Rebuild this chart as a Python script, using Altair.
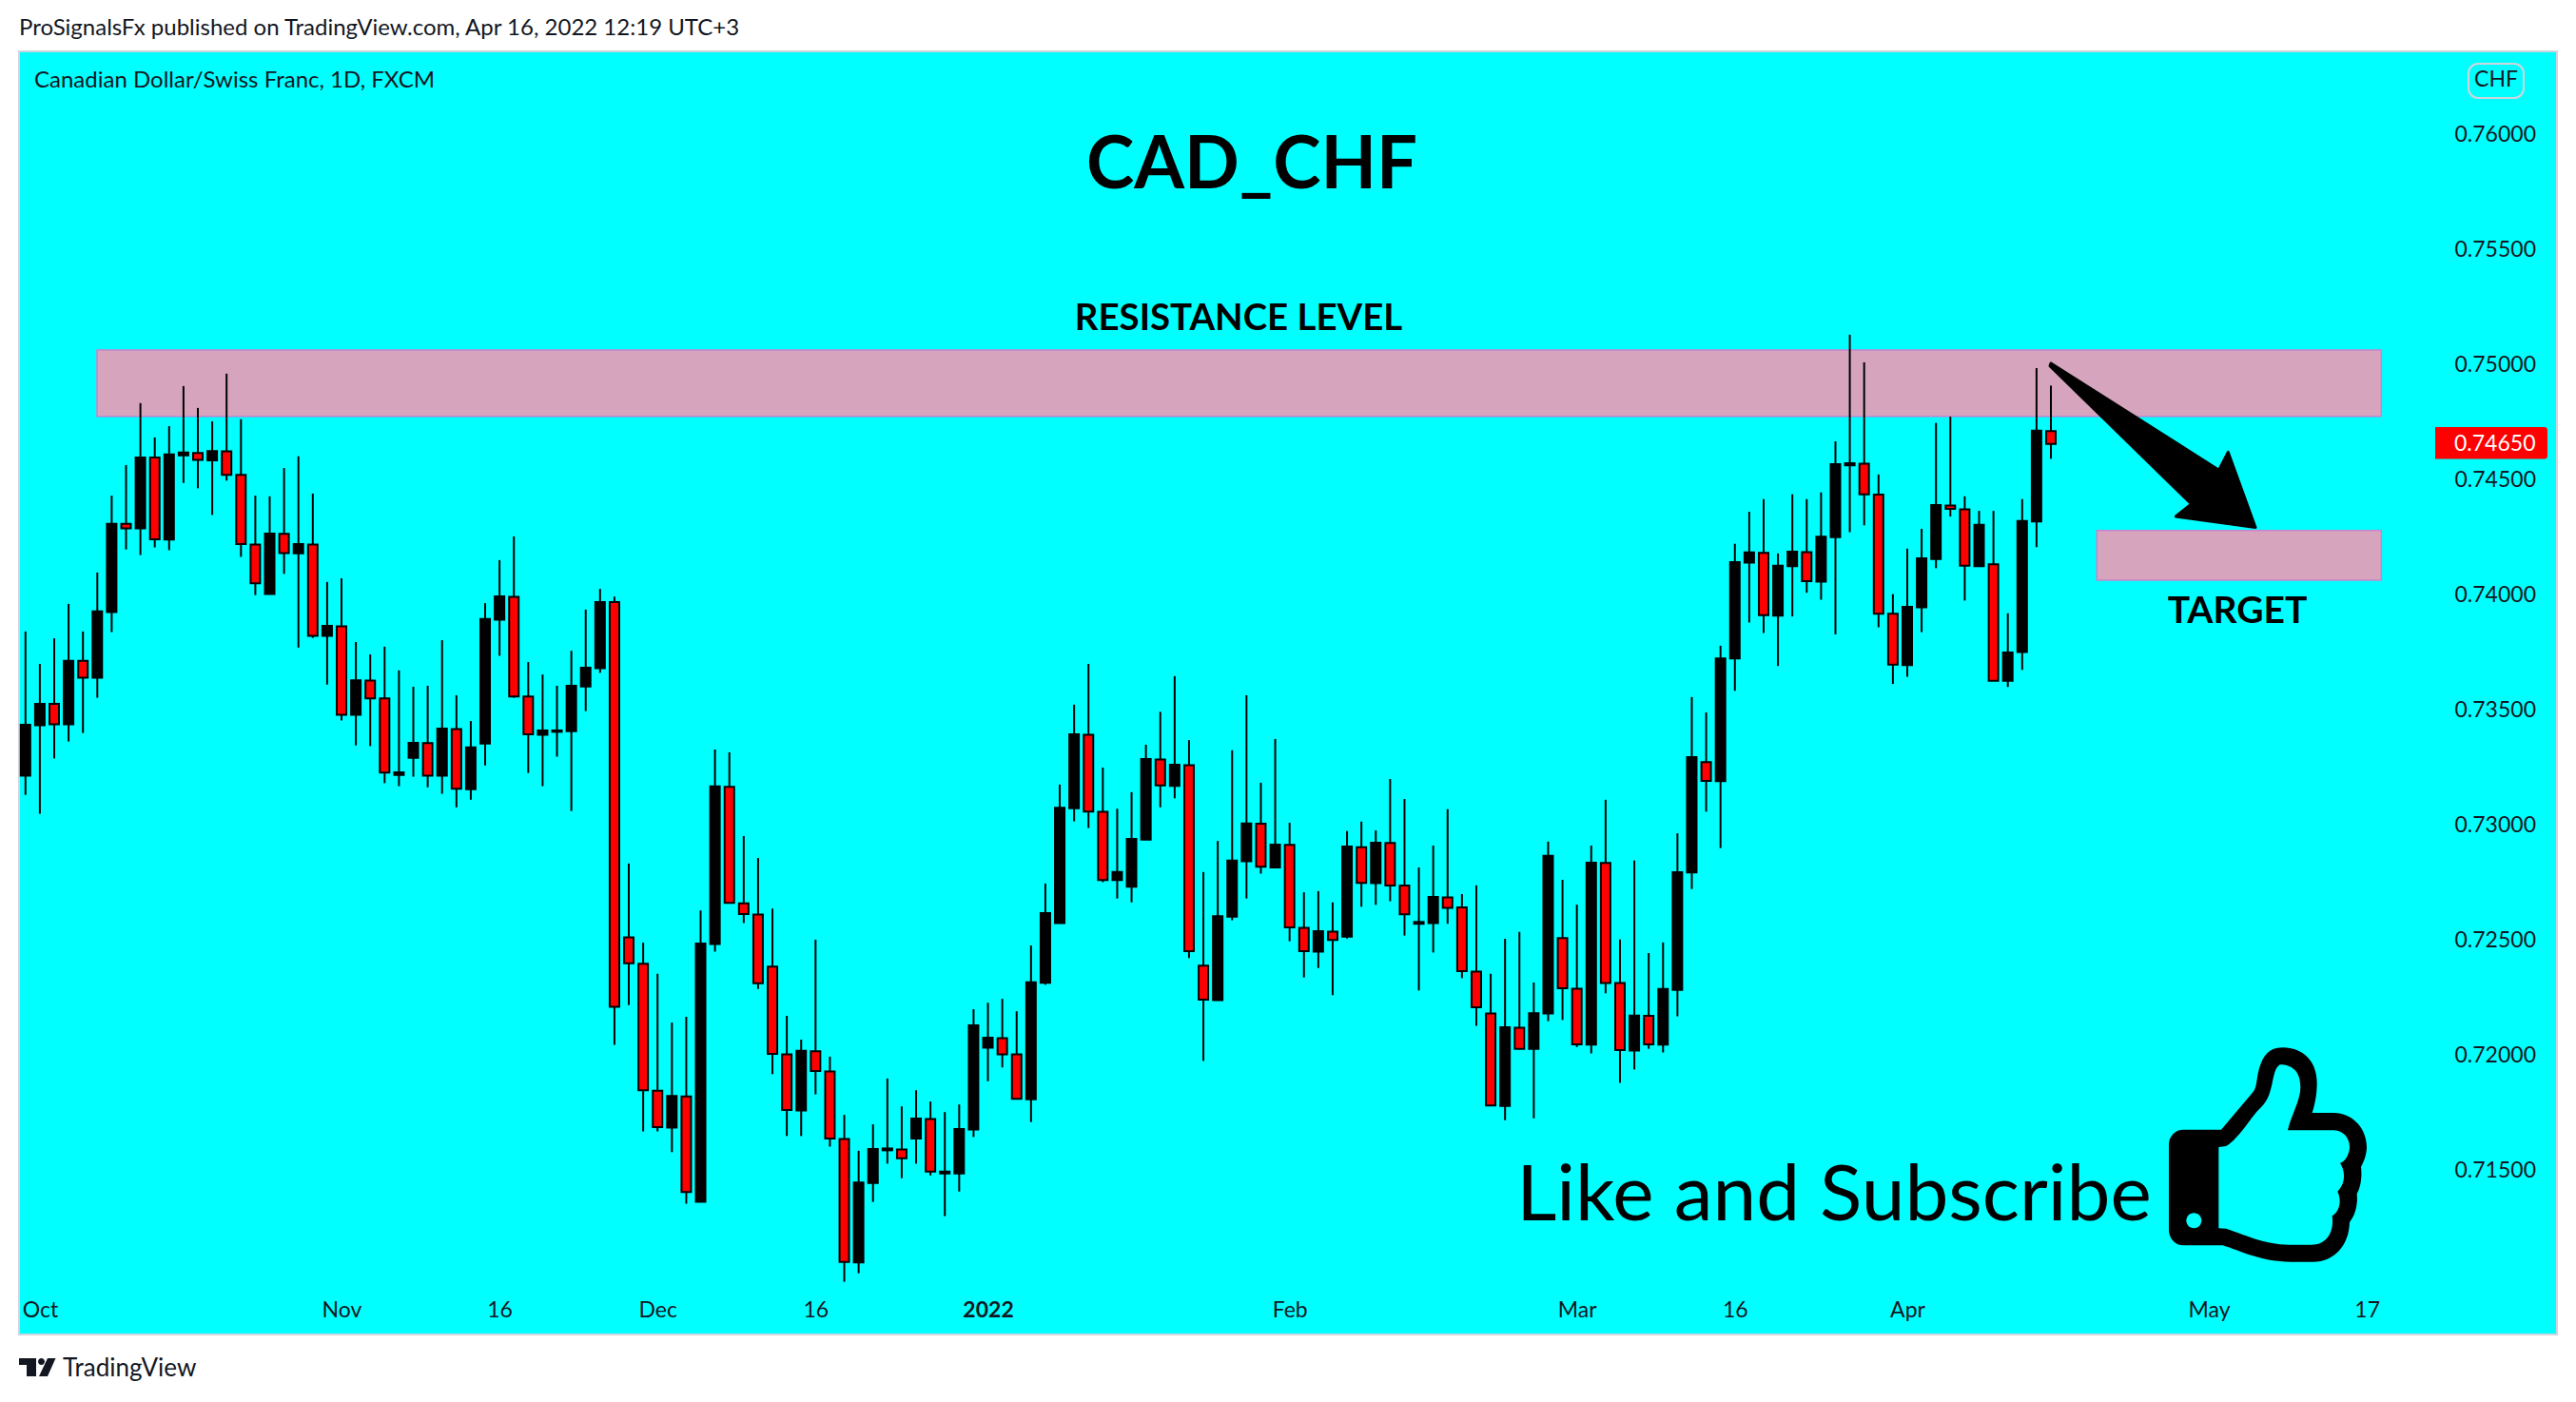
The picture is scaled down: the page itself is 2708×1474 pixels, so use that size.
import altair as alt
import pandas as pd

# prices in units of 0.00001
high = [73835,73694,73805,73955,73835,74091,74425,74558,74827,74678,
74727,74901,74806,74748,74955,74757,74425,74422,74545,74596,
74434,74050,74066,73789,73735,73769,73666,73595,73599,73797,
73558,73446,73958,74145,74248,73702,73648,73599,73751,73930,
74020,73986,72827,72483,72348,72136,72161,72623,73322,73310,
72946,72851,72631,72165,72062,72496,71988,71735,71579,71694,
71893,71772,71842,71793,71747,71780,72194,72222,72239,72185,
72471,72740,73170,73517,73694,73244,73065,73137,73343,73486,
73641,73363,72790,72925,73319,73558,73178,73368,73004,72702,
72707,72658,72968,73009,72971,73194,73107,72810,72905,73063,
72694,72732,72348,72500,72530,72310,72922,72756,72648,72905,
73104,72497,72840,72438,72484,72958,73550,73483,73773,74216,
74355,74410,74174,74431,74410,74439,74661,75124,75004,74517,
73997,74195,74281,74741,74768,74422,74359,74359,73914,74410,
74979,74903]
low = [73125,73043,73283,73357,73394,73547,73832,74191,74167,74200,
74188,74480,74457,74341,74490,74159,73993,73998,74085,73765,
73807,73604,73448,73340,73337,73176,73163,73204,73158,73130,
73071,73104,73253,73729,73547,73220,73163,73291,73055,73489,
73655,72039,72212,71663,71663,71573,71349,71357,72444,72656,
72568,72282,71912,71643,71643,71824,71597,71010,71047,71357,
71523,71460,71523,71472,71295,71402,71639,71881,71941,71805,
71704,72300,72568,73010,72981,72746,72675,72658,72931,73071,
73110,72416,71969,72233,72580,72675,72783,72807,72489,72332,
72373,72255,72501,72639,72647,72663,72514,72275,72440,72565,
72329,72122,71776,71712,72019,71720,72142,72147,72030,72002,
72263,71874,71932,72022,72006,72163,72716,73052,72894,73577,
73874,73828,73685,73900,74003,73973,73822,74266,74296,73853,
73607,73638,73832,74110,74334,73969,74115,73621,73594,73668,
74201,74585]
body_top = [73430,73520,73520,73707,73707,73922,74302,74302,74591,74591,
74604,74612,74610,74619,74618,74515,74213,74260,74259,74215,
74213,73859,73857,73623,73622,73544,73223,73351,73350,73413,
73411,73331,73889,73987,73985,73552,73405,73405,73599,73677,
73963,73963,72506,72391,71840,71817,71815,72479,73162,73160,
72654,72605,72379,71998,72013,72011,71924,71630,71441,71587,
71589,71585,71719,71717,71489,71674,72124,72070,72068,71998,
72311,72611,73069,73388,73386,73051,72790,72934,73281,73279,
73256,73254,72383,72598,72840,73001,73000,72909,72908,72547,
72533,72531,72901,72898,72917,72916,72731,72573,72682,72680,
72636,72357,72176,72116,72114,72177,72860,72503,72283,72830,
72829,72308,72166,72165,72282,72789,73289,73267,73718,74136,
74178,74176,74121,74182,74180,74247,74562,74566,74564,74429,
73912,73942,74153,74384,74382,74365,74298,74127,73744,74315,
74707,74705]
body_bottom = [73209,73427,73432,73432,73634,73634,73919,74283,74283,74235,
74234,74600,74580,74578,74515,74215,74044,73998,74175,74174,
73816,73816,73473,73473,73544,73222,73212,73286,73209,73209,
73152,73150,73348,73886,73552,73388,73386,73399,73402,73596,
73675,72204,72393,71842,71682,71680,71400,71357,72477,72656,
72607,72307,72000,71756,71754,71926,71632,71096,71094,71439,
71581,71546,71632,71489,71480,71480,71671,72027,71998,71805,
71803,72309,72568,73067,73053,72755,72755,72726,72931,73166,
73164,72446,72235,72233,72596,72837,72813,72810,72549,72446,
72444,72495,72509,72743,72742,72731,72606,72565,72568,72634,
72359,72202,71776,71774,72022,72022,72176,72285,72041,72040,
72308,72016,72014,72041,72040,72278,72788,73186,73185,73718,
74134,73906,73904,74119,74053,74051,74245,74557,74431,73912,
73691,73689,73940,74150,74368,74121,74119,73621,73621,73746,
74313,74650]
direction = ("UUDUDUUDUD" "UUDUDDDUDU" "DUDUDDUUDU" "DUUUDDUUUU" "UDDDDUDUUD"
             "DDDDUDDDUU" "UDUDUUUUDD" "UUUUDDUUUD" "UDDUUUDUDD" "UDUDUDDUUD"
             "DDDUDUUDDU" "DDUDUUUDUU" "UDUUDUUUDD" "DUUUDDUDUU" "UD")

x_tick_pos = [1, 22, 33, 44, 55, 67, 88, 108, 119, 131, 152, 163]
x_tick_text = ["Oct", "Nov", "16", "Dec", "16", "2022", "Feb", "Mar", "16", "Apr", "May", "17"]
y_ticks = [0.715, 0.72, 0.725, 0.73, 0.735, 0.74, 0.745, 0.75, 0.755, 0.76]

zone_x = [4.98, 144.2]
zone_x2 = [164.0, 164.0]
zone_hi = [0.75058, 0.74274]
zone_lo = [0.74769, 0.74058]

BG = "#00ffff"
INK = "#131722"
FONT = "Lato"
PLOT_L, PLOT_T = 20, 54
W, H = 2668, 1349

n = len(high)
df = pd.DataFrame({
    "idx": list(range(n)),
    "high": [v / 1e5 for v in high],
    "low": [v / 1e5 for v in low],
    "top": [v / 1e5 for v in body_top],
    "bottom": [v / 1e5 for v in body_bottom],
    "dir": list(direction),
})

xscale = alt.Scale(domain=[-0.45, 176.23], nice=False, zero=False, padding=0)
yscale = alt.Scale(domain=[0.70781, 0.76355], nice=False, zero=False, padding=0)

label_map = "{" + ",".join(f"'{p}':'{t}'" for p, t in zip(x_tick_pos, x_tick_text)) + "}"
x_axis = alt.Axis(values=x_tick_pos, labelExpr=label_map + "[''+datum.value]", title=None, grid=False,
                  domain=False, ticks=False, orient="bottom", offset=-26, labelPadding=0,
                  labelBaseline="middle", labelAlign="center", labelFont=FONT, labelFontSize=23, labelColor=INK,
                  labelOverlap=False, labelFlush=False,
                  labelFontWeight=alt.ExprRef("datum.value==67?'bold':'normal'"))
y_axis = alt.Axis(values=y_ticks, format=".5f", title=None, grid=False, domain=False, ticks=False,
                  orient="right", offset=-108, labelPadding=0, labelAlign="left", labelFont=FONT,
                  labelFontSize=23, labelColor=INK, labelOverlap=False, labelFlush=False, labelOffset=1.5)


def px(x, y):
    return dict(x=alt.value(x - PLOT_L), y=alt.value(y - PLOT_T))


def text(s, x, y, size, weight="normal", align="center", color=INK):
    return alt.Chart(pd.DataFrame({"t": [s]})).mark_text(
        font=FONT, fontSize=size, fontWeight=weight, align=align, baseline="middle", color=color
    ).encode(text="t:N", **px(x, y))


def icon(path, x, y, size, color="#000000", stroke=None, sw=0):
    kw = dict(shape=path, size=size, filled=True, fill=color, opacity=1)
    if stroke:
        kw.update(stroke=stroke, strokeWidth=sw, strokeJoin="round")
    else:
        kw.update(strokeWidth=0)
    return alt.Chart(pd.DataFrame({"a": [0]})).mark_point(**kw).encode(**px(x, y))


zones = alt.Chart(pd.DataFrame({"x": zone_x, "x2": zone_x2, "hi": zone_hi, "lo": zone_lo})).mark_rect(
    fill="#d6a5bd", stroke="#c983cc", strokeWidth=1.5
).encode(x=alt.X("x:Q", scale=xscale, axis=x_axis), x2="x2:Q",
         y=alt.Y("hi:Q", scale=yscale, axis=y_axis), y2="lo:Q")

wicks = alt.Chart(df).mark_rule(color="#000000", size=2, clip=True).encode(
    x=alt.X("idx:Q", scale=xscale, axis=x_axis),
    y=alt.Y("high:Q", scale=yscale, axis=y_axis), y2="low:Q")

bodies = alt.Chart(df).mark_bar(size=10, stroke="#000000", strokeWidth=2, orient="vertical", clip=True).encode(
    x=alt.X("idx:Q", scale=xscale, axis=x_axis), y=alt.Y("top:Q", scale=yscale, axis=y_axis), y2="bottom:Q",
    fill=alt.Fill("dir:N", scale=alt.Scale(domain=["U", "D"], range=["#000000", "#ff0000"]), legend=None))

price_tag = alt.Chart(pd.DataFrame({"hi": [0.74723], "lo": [0.74584]})).mark_rect(
    fill="#ff0000", cornerRadiusTopRight=3, cornerRadiusBottomRight=3
).encode(x=alt.value(2560 - PLOT_L), x2=alt.value(2678 - PLOT_L),
         y=alt.Y("hi:Q", scale=yscale, axis=y_axis), y2="lo:Q")

chf_box = alt.Chart(pd.DataFrame({"a": [0]})).mark_rect(
    fill=BG, stroke="#d1d4dc", strokeWidth=2, cornerRadius=10
).encode(x=alt.value(2595 - PLOT_L), x2=alt.value(2653 - PLOT_L),
         y=alt.value(67 - PLOT_T), y2=alt.value(103 - PLOT_T))

ARROW = "M-104,-88 L72.6,24.2 L82.3,5.4 L111,84.5 L27.3,72.9 L43.6,59.9 L-105,-85.2 Z"
arrow = icon(ARROW, 2260, 470, 4, stroke="#000000", sw=3)

THUMB_OUT = ("M285,323 L405,323 L505,205 C520,190 515,150 530,115 C545,75 570,64 600,64 "
             "C660,64 707,105 707,175 C707,215 700,245 692,270 L760,270 C820,270 864,320 864,378 "
             "C864,400 855,425 846,440 C850,470 845,505 833,525 C836,555 830,590 810,615 "
             "C808,690 760,740 695,740 L625,740 C530,740 465,705 410,688 L285,688 "
             "C260,688 240,665 240,640 L240,370 C240,345 260,323 285,323 Z")
THUMB_IN = ("M397,378 L420,375 C450,360 490,300 510,275 C530,250 550,240 560,200 C570,170 570,130 590,118 "
            "C630,118 655,140 655,190 C655,230 625,280 615,325 L760,325 C790,325 810,350 810,378 "
            "C810,400 795,425 780,428 C795,450 800,490 772,518 C785,545 780,580 755,595 "
            "C762,650 735,685 690,686 L620,686 C540,686 470,650 420,635 L397,634 Z")
THUMB_DOT = "M295,610 a24,24 0 1,0 48,0 a24,24 0 1,0 -48,0 Z"
S3 = 4 / 9
thumb = [icon(THUMB_OUT, 2200, 1080, S3), icon(THUMB_IN, 2200, 1080, S3, color=BG),
         icon(THUMB_DOT, 2200, 1080, S3, color=BG)]

LOGO = "M0,0 L18,0 L18,19 L8,19 L8,7 L0,7 Z M30,0 L38.5,0 L30,19 L21,19 Z M20,3.5 a3.5,3.5 0 1,0 7,0 a3.5,3.5 0 1,0 -7,0 Z"
logo = icon(LOGO, 20, 1428, 4, color=INK)

chart = alt.layer(
    zones, wicks, bodies, price_tag, chf_box, arrow, *thumb, logo,
    text("0.74650", 2580, 467, 23, align="left", color="#ffffff"),
    text("CHF", 2624, 84, 23),
    text("ProSignalsFx published on TradingView.com, Apr 16, 2022 12:19 UTC+3", 20, 30, 24, align="left"),
    text("Canadian Dollar/Swiss Franc, 1D, FXCM", 36, 85, 24, align="left"),
    text("TradingView", 66, 1439, 26, align="left"),
    text("CAD_CHF", 1316, 175, 76, weight="bold", color="#000000"),
    text("RESISTANCE LEVEL", 1302, 335, 38.4, weight="bold", color="#000000"),
    text("TARGET", 2352, 643, 39, weight="bold", color="#000000"),
    text("Like and Subscribe", 1928, 1258, 82, color="#000000"),
).properties(
    width=W, height=H,
    padding={"left": 12, "top": 46, "right": 12, "bottom": 60},
    autosize=alt.AutoSizeParams(type="none"),
    background="#ffffff",
).configure_view(fill=BG, stroke="#d1d4dc", strokeWidth=2)

chart.save("out.html", embed_options={"renderer": "svg", "actions": False})
